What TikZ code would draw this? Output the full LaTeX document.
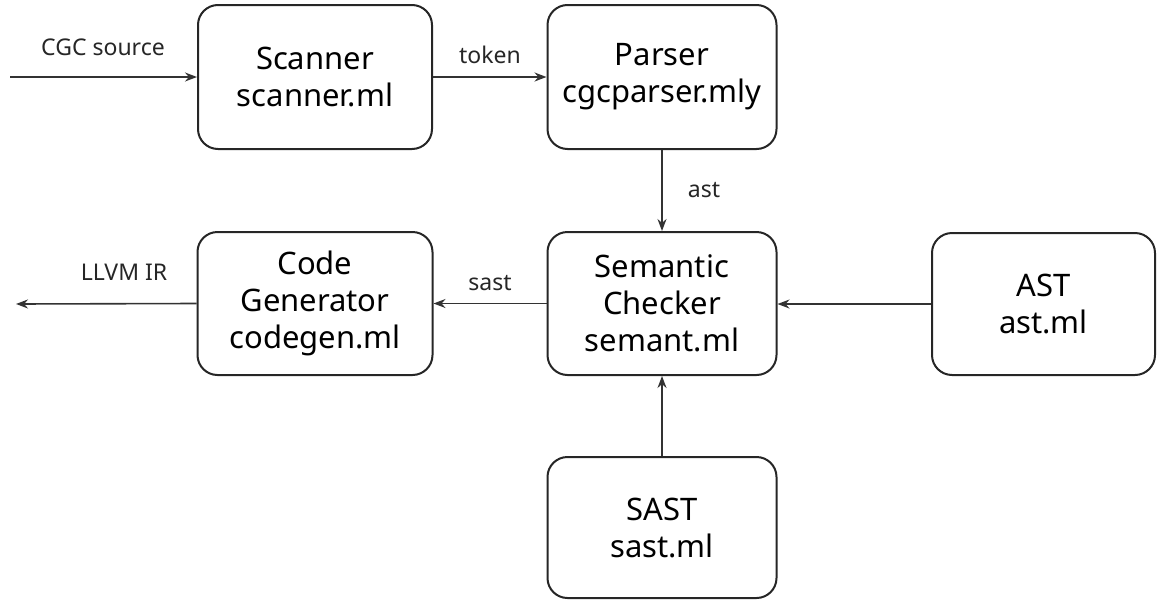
\documentclass[tikz,border=0pt]{standalone}
\usepackage{fontspec}
\setmainfont{Noto Sans}
\usetikzlibrary{arrows.meta}
\begin{document}
\begin{tikzpicture}[x=1pt,y=-1pt,
  box/.style={draw=black!85, line width=2pt, rounded corners=20pt, rectangle,
    align=center, font=\fontsize{31}{37}\selectfont, inner sep=0pt},
  conn/.style={draw=black!80, line width=1.6pt, -{Stealth[length=12pt,width=9pt]}},
  lbl/.style={font=\fontsize{23}{27}\selectfont, text=black!85, inner sep=0pt}]
\useasboundingbox (0,0) rectangle (1157,600);
\node[box, minimum width=234pt, minimum height=144pt] (scan) at (315,77) {Scanner\\scanner.ml};
\node[box, minimum width=229pt, minimum height=144pt] (pars) at (662,77) {Parser\\cgcparser.mly};
\node[box, minimum width=235pt, minimum height=143pt] (code) at (315,303.5) {Code\\Generator\\codegen.ml};
\node[box, minimum width=229pt, minimum height=143pt] (sem) at (662,303.5) {Semantic\\Checker\\semant.ml};
\node[box, minimum width=223pt, minimum height=142pt] (ast) at (1043.5,304) {AST\\ast.ml};
\node[box, minimum width=229pt, minimum height=141pt] (sast) at (662,527.5) {SAST\\sast.ml};
\coordinate (in) at (10,77);
\coordinate (out) at (16,304);
\draw[conn] (in) -- (scan.west);
\draw[conn] (scan.east) -- (pars.west);
\draw[conn] (pars.south) -- (sem.north);
\draw[conn] (sem.west) -- (code.west -| code.east);
\draw[conn] (code.west) -- (out);
\draw[conn] (ast.west) -- (ast.west -| sem.east);
\draw[conn] (sast.north) -- (sem.south);
\node[lbl] (l1) at (103,47) {CGC source};
\node[lbl] (l2) at (490,55) {token};
\node[lbl] (l3) at (704,190) {ast};
\node[lbl] (l4) at (490,283) {sast};
\node[lbl] (l5) at (124,272) {LLVM IR};
\end{tikzpicture}
\end{document}
